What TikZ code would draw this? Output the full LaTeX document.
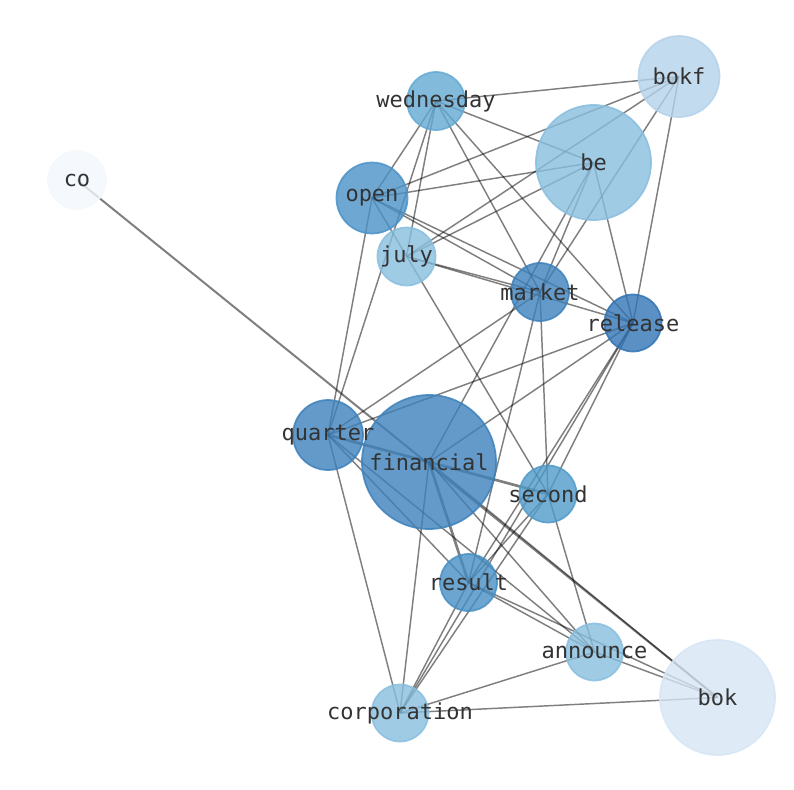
\documentclass[tikz,border=0pt]{standalone}
\usepackage{fontspec}
\setmonofont{DejaVu Sans Mono}
\pgfdeclarelayer{bg}
\pgfdeclarelayer{fg}
\pgfsetlayers{bg,main,fg}
\definecolor{cFin}{RGB}{60,129,187}
\definecolor{cRel}{RGB}{49,116,181}
\definecolor{cOpen}{RGB}{74,146,199}
\definecolor{cRes}{RGB}{70,143,196}
\definecolor{cSec}{RGB}{80,155,202}
\definecolor{cWed}{RGB}{99,169,211}
\definecolor{cLt}{RGB}{136,190,223}
\definecolor{cBokf}{RGB}{180,210,234}
\definecolor{cBok}{RGB}{214,229,244}
\definecolor{cCo}{RGB}{243,248,252}
\definecolor{txt}{RGB}{51,51,51}
\tikzset{
  nd/.style 2 args={circle, inner sep=0pt, minimum size=#1*1.5pt, fill=#2, draw=#2, fill opacity=0.8, draw opacity=0.85, line width=1.3pt},
  lab/.style={font=\ttfamily\fontsize{16.5}{18}\selectfont, text=txt, inner sep=0pt, anchor=center},
  edge/.style={draw=black, draw opacity=0.5, line width=1.1pt},
  thick edge/.style={draw=black, draw opacity=0.5, line width=2pt},
  mid edge/.style={draw=black, draw opacity=0.5, line width=1.5pt}
}
\begin{document}
\begin{tikzpicture}[x=0.75pt, y=-0.75pt]
\useasboundingbox (0,0) rectangle (794,790);
% nodes
\node[nd={29}{cWed}] (wed) at (436,101) {};
\node[nd={40.5}{cBokf}] (bokf) at (679,76.5) {};
\node[nd={57.5}{cLt}] (be) at (593.5,162.5) {};
\node[nd={29}{cCo}] (co) at (77,180) {};
\node[nd={35.5}{cOpen}] (open) at (372,198) {};
\node[nd={29}{cLt}] (july) at (406.5,256.5) {};
\node[nd={29}{cFin}] (market) at (540,292) {};
\node[nd={28.5}{cRel}] (release) at (633,323) {};
\node[nd={35}{cFin}] (quarter) at (328,435) {};
\node[nd={67}{cFin}] (financial) at (429,462) {};
\node[nd={28.5}{cSec}] (second) at (548,494) {};
\node[nd={28.5}{cRes}] (result) at (468.5,582.5) {};
\node[nd={28.5}{cLt}] (announce) at (594.5,652) {};
\node[nd={57.5}{cBok}] (bok) at (717.5,697.5) {};
\node[nd={28.5}{cLt}] (corp) at (400,713) {};
% edges
\begin{pgfonlayer}{bg}
\foreach \a/\b in {wed/bokf, wed/be, wed/open, wed/july, wed/quarter, wed/market, wed/release,
  bokf/open, bokf/july, bokf/market, bokf/release,
  be/open, be/july, be/market, be/release, be/financial,
  open/quarter, open/market, open/release, open/second,
  july/market, july/release,
  market/quarter, market/second, market/result,
  release/quarter, release/financial, release/second, release/result, release/corp,
  quarter/corp, quarter/result, quarter/announce,
  financial/corp, financial/announce, financial/bok,
  second/result, second/corp, second/announce,
  result/announce, result/bok, result/corp,
  announce/corp, announce/bok, corp/bok}
  \draw[edge] (\a.center) -- (\b.center);
\draw[mid edge] (co.center) -- (bok.center);
\draw[thick edge] (quarter.center) -- (financial.center);
\draw[thick edge] (financial.center) -- (second.center);
\draw[thick edge] (financial.center) -- (result.center);
\end{pgfonlayer}
% labels
\begin{pgfonlayer}{fg}
\node[lab] (wed-l) at (wed.center) {wednesday};
\node[lab] (bokf-l) at (bokf.center) {bokf};
\node[lab] (be-l) at (be.center) {be};
\node[lab] (co-l) at (co.center) {co};
\node[lab] (open-l) at (open.center) {open};
\node[lab] (july-l) at (july.center) {july};
\node[lab] (market-l) at (market.center) {market};
\node[lab] (release-l) at (release.center) {release};
\node[lab] (quarter-l) at (quarter.center) {quarter};
\node[lab] (financial-l) at (financial.center) {financial};
\node[lab] (second-l) at (second.center) {second};
\node[lab] (result-l) at (result.center) {result};
\node[lab] (announce-l) at (announce.center) {announce};
\node[lab] (bok-l) at (bok.center) {bok};
\node[lab] (corp-l) at (corp.center) {corporation};
\end{pgfonlayer}
\end{tikzpicture}
\end{document}
